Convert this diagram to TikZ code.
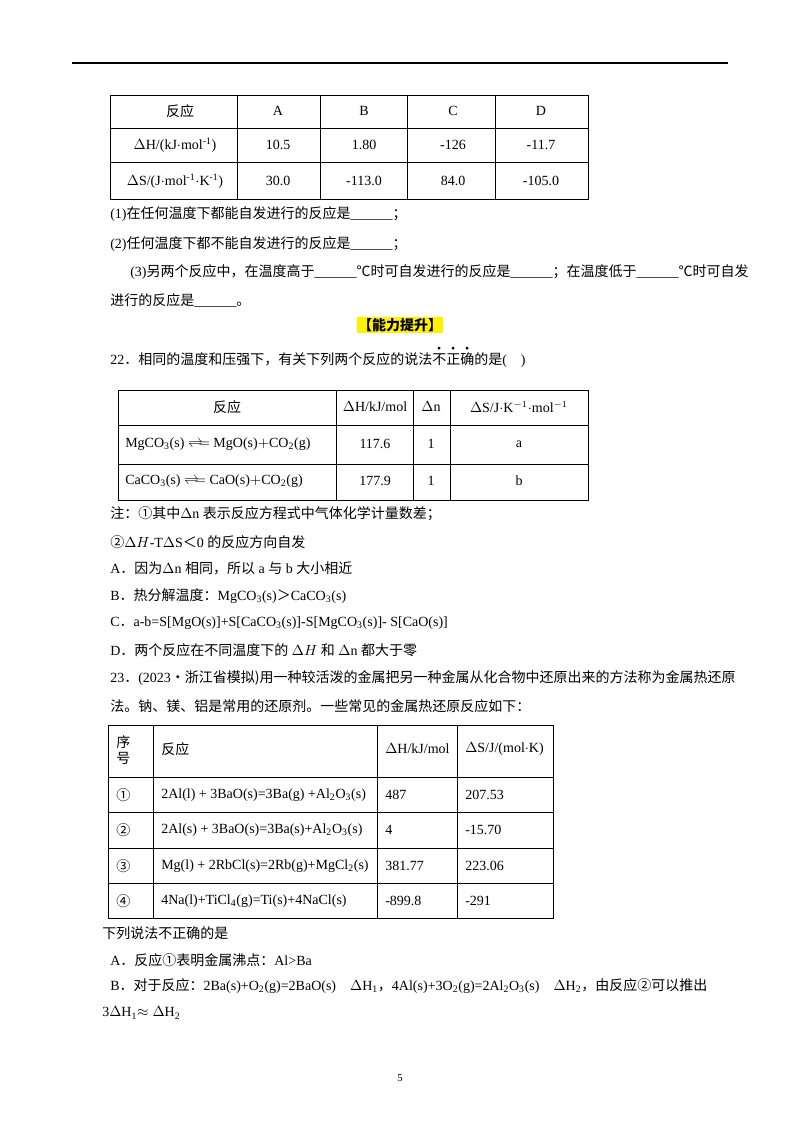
\documentclass[tikz,border=0pt]{standalone}
\usepackage{fontspec}
\setmainfont{Liberation Serif}
\newfontfamily\cjk{Noto Sans CJK SC}
\newcommand{\zh}[1]{{\cjk #1}}
\newcommand{\dotc}[1]{\rlap{\makebox[1em]{\raisebox{1.0em}{\scalebox{0.5}{$\bullet$}}}}#1}
\begin{document}
\begin{tikzpicture}[x=0.75pt,y=-0.75pt,
  t/.style={anchor=west,inner sep=0pt,font=\fontsize{10.5}{12}\selectfont},
  c/.style={anchor=center,inner sep=0pt,font=\fontsize{10.5}{12}\selectfont},
  tab/.style={line width=0.6pt}]
\useasboundingbox[fill=white] (0,0) rectangle (800,1132);
\draw[line width=0.8pt] (72,63) -- (728,63);
% table 1
\draw[tab] (110,95) rectangle (588,199);
\foreach \y in {128,162} \draw[tab] (110,\y) -- (588,\y);
\foreach \x in {237,320,407,495} \draw[tab] (\x,95) -- (\x,199);
\node[c] (h1) at (180,111) {\zh{反应}};
\node[c] at (278,111) {A}; \node[c] at (364,111) {B}; \node[c] at (453,111) {C}; \node[c] at (541,111) {D};
\node[c] at (175,145) {$\Delta$H/(kJ$\cdot$mol\textsuperscript{-1})};
\node[c] at (278,145) {10.5}; \node[c] at (364,145) {1.80}; \node[c] at (453,145) {-126}; \node[c] at (541,145) {-11.7};
\node[c] at (175,181) {$\Delta$S/(J$\cdot$mol\textsuperscript{-1}$\cdot$K\textsuperscript{-1})};
\node[c] at (278,181) {30.0}; \node[c] at (364,181) {-113.0}; \node[c] at (453,181) {84.0}; \node[c] at (541,181) {-105.0};
\node[t] at (110,214) {(1)\zh{在任何温度下都能自发进行的反应是}\_\_\_\_\_\_\zh{；}};
\node[t] at (110,244) {(2)\zh{任何温度下都不能自发进行的反应是}\_\_\_\_\_\_\zh{；}};
\node[t] at (130,272) {(3)\zh{另两个反应中，在温度高于}\_\_\_\_\_\_\zh{℃时可自发进行的反应是}\_\_\_\_\_\_\zh{；在温度低于}\_\_\_\_\_\_\zh{℃时可自发}};
\node[t] at (110,300) {\zh{进行的反应是}\_\_\_\_\_\_\zh{。}};
\node[c,fill=yellow,inner sep=1pt,font=\fontsize{10.5}{12}\selectfont\bfseries] (cap) at (400,325) {\zh{【能力提升】}};
\node[t] (q22) at (110,357) {22\zh{．相同的温度和压强下，有关下列两个反应的说法\dotc{不}\dotc{正}\dotc{确}的是}(\quad)};
% table 2
\draw[tab] (118,390) rectangle (588,500);
\foreach \y in {425,464} \draw[tab] (118,\y) -- (588,\y);
\foreach \x in {336,413,450} \draw[tab] (\x,390) -- (\x,500);
\node[c] at (227,407) {\zh{反应}};
\node[c] at (375,407) {$\Delta$H/kJ/mol}; \node[c] at (431,407) {$\Delta$n};
\node[c] at (519,407) {$\Delta$S/J$\cdot$K\textsuperscript{$-1$}$\cdot$mol\textsuperscript{$-1$}};
\node[t] at (125,444) {MgCO\textsubscript{3}(s) $\rightleftharpoons$\hspace{-3pt}$=$ MgO(s)$+$CO\textsubscript{2}(g)};
\node[c] at (375,444) {117.6}; \node[c] at (431,444) {1}; \node[c] at (519,444) {a};
\node[t] at (125,481) {CaCO\textsubscript{3}(s) $\rightleftharpoons$\hspace{-3pt}$=$ CaO(s)$+$CO\textsubscript{2}(g)};
\node[c] at (375,481) {177.9}; \node[c] at (431,481) {1}; \node[c] at (519,481) {b};
\node[t] at (110,514) {\zh{注：①其中}$\Delta$n \zh{表示反应方程式中气体化学计量数差；}};
\node[t] at (110,542) {\zh{②}$\Delta H$-T$\Delta$S\zh{＜}0 \zh{的反应方向自发}};
\node[t] at (110,568) {A\zh{．因为}$\Delta$n \zh{相同，所以} a \zh{与} b \zh{大小相近}};
\node[t] at (110,596) {B\zh{．热分解温度：}MgCO\textsubscript{3}(s)\zh{＞}CaCO\textsubscript{3}(s)};
\node[t] at (110,623) {C\zh{．}a-b=S[MgO(s)]+S[CaCO\textsubscript{3}(s)]-S[MgCO\textsubscript{3}(s)]- S[CaO(s)]};
\node[t] at (110,650) {D\zh{．两个反应在不同温度下的} $\Delta H$ \zh{和} $\Delta$n \zh{都大于零}};
\node[t] at (110,678) {23\zh{．}(2023\zh{·浙江省模拟)用一种较活泼的金属把另一种金属从化合物中还原出来的方法称为金属热还原}};
\node[t] at (110,706) {\zh{法。钠、镁、铝是常用的还原剂。一些常见的金属热还原反应如下：}};
% table 3
\draw[tab] (108,725) rectangle (553,918);
\foreach \y in {777,812,848,883} \draw[tab] (108,\y) -- (553,\y);
\foreach \x in {153,377,457} \draw[tab] (\x,725) -- (\x,918);
\node[t,align=left] at (116,750) {\zh{序}\\\zh{号}};
\node[t] at (161,749) {\zh{反应}};
\node[t] at (385,749) {$\Delta$H/kJ/mol};
\node[t] at (465,749) {$\Delta$S/J/(mol$\cdot$K)};
\node[t] at (116,795) {\zh{①}}; \node[t] at (161,795) {2Al(l) + 3BaO(s)=3Ba(g) +Al\textsubscript{2}O\textsubscript{3}(s)}; \node[t] at (385,795) {487}; \node[t] at (465,795) {207.53};
\node[t] at (116,830) {\zh{②}}; \node[t] at (161,830) {2Al(s) + 3BaO(s)=3Ba(s)+Al\textsubscript{2}O\textsubscript{3}(s)}; \node[t] at (385,830) {4}; \node[t] at (465,830) {-15.70};
\node[t] at (116,866) {\zh{③}}; \node[t] at (161,866) {Mg(l) + 2RbCl(s)=2Rb(g)+MgCl\textsubscript{2}(s)}; \node[t] at (385,866) {381.77}; \node[t] at (465,866) {223.06};
\node[t] at (116,901) {\zh{④}}; \node[t] at (161,901) {4Na(l)+TiCl\textsubscript{4}(g)=Ti(s)+4NaCl(s)}; \node[t] at (385,901) {-899.8}; \node[t] at (465,901) {-291};
\node[t] at (102,933) {\zh{下列说法不正确的是}};
\node[t] at (110,960) {A\zh{．反应①表明金属沸点：}Al>Ba};
\node[t] at (110,986) {B\zh{．对于反应：}2Ba(s)+O\textsubscript{2}(g)=2BaO(s)\quad$\Delta$H\textsubscript{1}\zh{，}4Al(s)+3O\textsubscript{2}(g)=2Al\textsubscript{2}O\textsubscript{3}(s)\quad$\Delta$H\textsubscript{2}\zh{，由反应②可以推出}};
\node[t] at (102,1013) {3$\Delta$H\textsubscript{1}$\approx\Delta$H\textsubscript{2}};
\node[c,font=\fontsize{8}{10}\selectfont] (pg) at (400,1078) {5};
\end{tikzpicture}
\end{document}
